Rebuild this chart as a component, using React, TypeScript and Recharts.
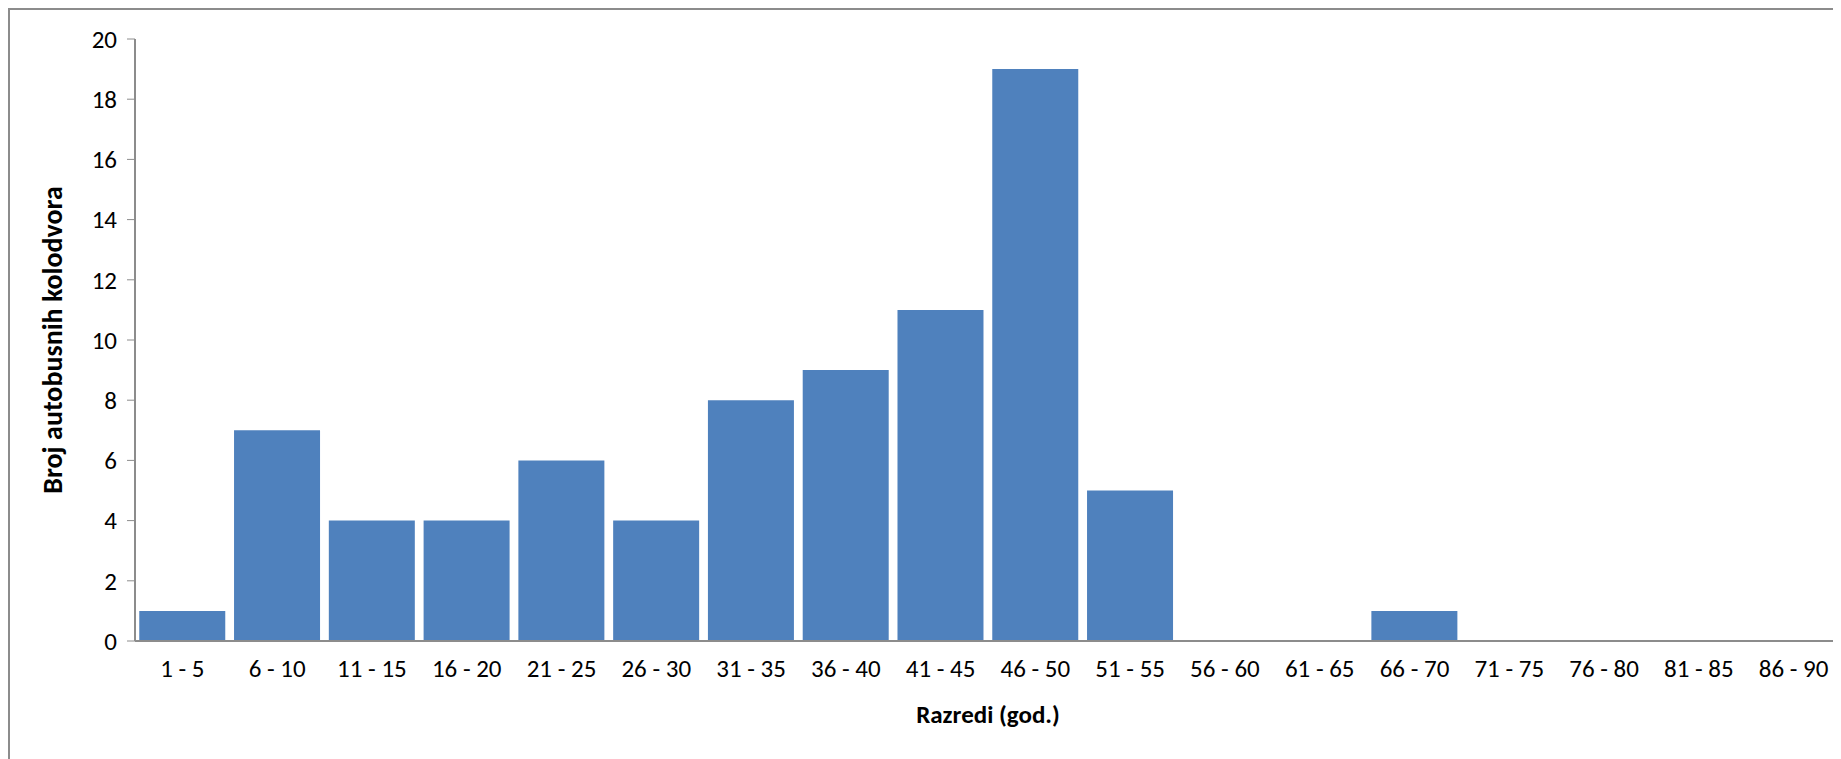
import React from 'react';
import { BarChart, Bar, XAxis, YAxis, Label } from 'recharts';

const categories = ['1 - 5', '6 - 10', '11 - 15', '16 - 20', '21 - 25', '26 - 30', '31 - 35', '36 - 40', '41 -  45', '46 - 50', '51 - 55', '56 - 60', '61 - 65', '66 - 70', '71 - 75', '76 - 80', '81 - 85', '86 - 90'];
const counts = [1, 7, 4, 4, 6, 4, 8, 9, 11, 19, 5, 0, 0, 1, 0, 0, 0, 0];
const yTicks = [0, 2, 4, 6, 8, 10, 12, 14, 16, 18, 20];

const data = categories.map((name, i) => ({ name, value: counts[i] }));
const font = 'Carlito, Lato, "Open Sans", sans-serif';

export default function App() {
  return (
    <div style={{ width: 1833, height: 751, borderLeft: '2px solid #8c8c8c', borderTop: '2px solid #8c8c8c', boxSizing: 'border-box', fontFamily: font }}>
      <BarChart width={1831} height={749} data={data} margin={{ top: 29, right: 0, left: 0, bottom: 88 }} barCategoryGap="4.5%">
        <XAxis dataKey="name" interval={0} tickLine={false} axisLine={{ stroke: '#8c8c8c', strokeWidth: 2 }} tick={{ fill: '#000', fontSize: 25, dy: 10 }}>
          <Label value="Razredi (god.)" position="insideBottom" offset={-52} style={{ fill: '#000', fontSize: 25, fontWeight: 'bold' }} />
        </XAxis>
        <YAxis width={125} domain={[0, 20]} ticks={yTicks} interval={0} tickSize={8} tickLine={{ stroke: '#8c8c8c' }} axisLine={{ stroke: '#8c8c8c', strokeWidth: 2 }} tick={{ fill: '#000', fontSize: 25, dx: -8 }}>
          <Label value="Broj autobusnih kolodvora" angle={-90} position="insideLeft" offset={42} style={{ textAnchor: 'middle', fill: '#000', fontSize: 28, fontWeight: 'bold' }} />
        </YAxis>
        <Bar dataKey="value" fill="#4f81bd" isAnimationActive={false} />
      </BarChart>
    </div>
  );
}
